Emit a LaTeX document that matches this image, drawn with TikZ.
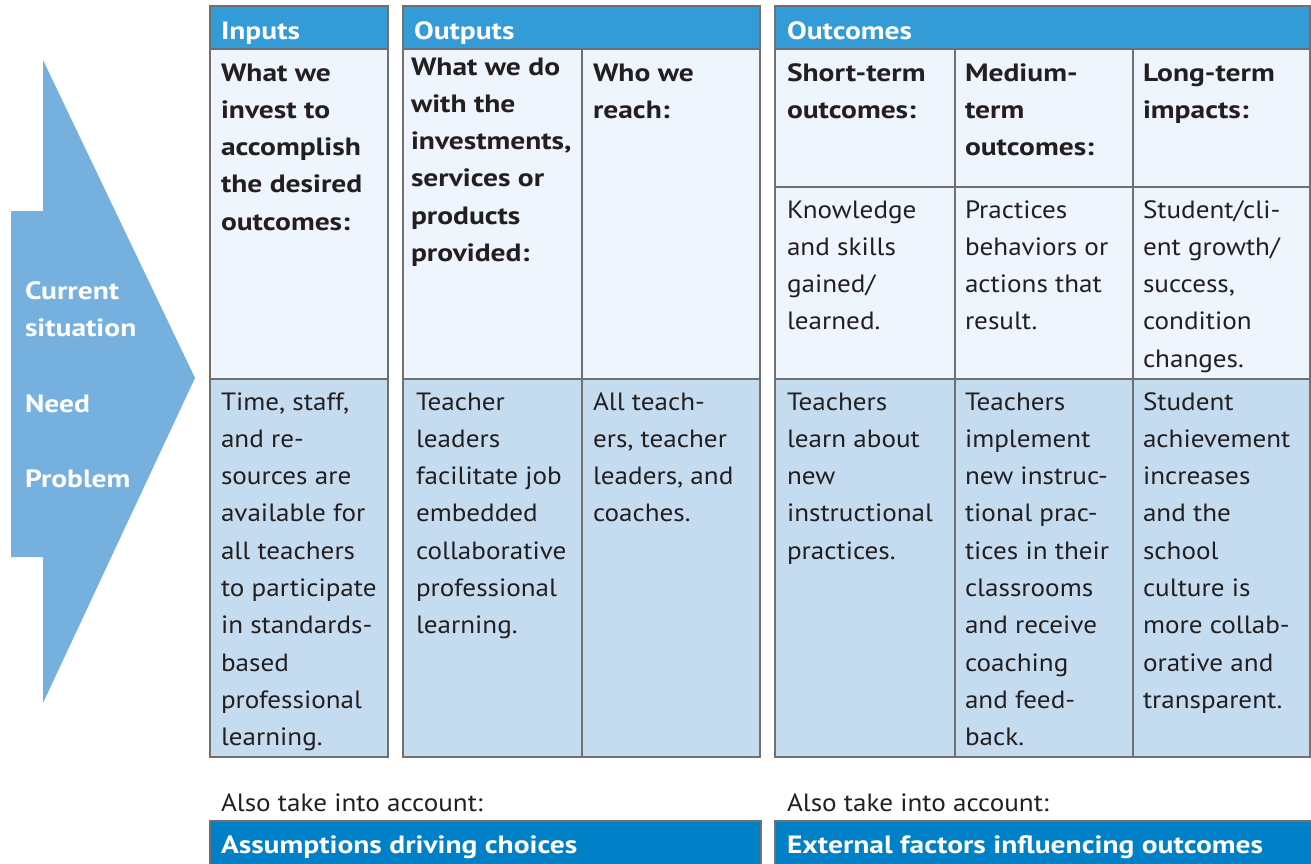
\documentclass[tikz,border=0pt]{standalone}
\usepackage{fontspec}
\setmainfont{PT Sans}[FakeStretch=1.085, BoldFeatures={FakeStretch=1.18}]
\definecolor{hdr}{RGB}{51,155,213}
\definecolor{lite}{RGB}{239,245,252}
\definecolor{dark}{RGB}{197,220,240}
\definecolor{grid}{RGB}{112,112,112}
\definecolor{bar}{RGB}{0,128,198}
\definecolor{arrowblue}{RGB}{117,176,222}
\definecolor{ink}{RGB}{35,31,32}
\newcommand{\topstrut}{\rule{0pt}{26.11pt}}
\begin{document}
\begin{tikzpicture}[x=1pt,y=-1pt,
  txt/.style={anchor=north west, inner sep=0pt, outer sep=0pt, align=left, yshift=26.11pt,
    font=\fontsize{25}{37.3}\selectfont, text=ink},
  btxt/.style={txt, font=\fontsize{25}{37.3}\selectfont\bfseries},
  wtxt/.style={btxt, text=white},
  gridline/.style={draw=grid, line width=2.4pt},
  hdrfill/.style={fill=hdr},
  litefill/.style={fill=lite},
  darkfill/.style={fill=dark},
  barfill/.style={fill=bar}]
\useasboundingbox (0,0) rectangle (1311,863);

% arrow
\fill[arrowblue] (11,211) -- (43,211) -- (43,60) -- (195,378) -- (43,703) -- (43,557) -- (11,557) -- cycle;
\node[wtxt] (cur) at (25,299) {\topstrut Current\\situation};
\node[wtxt] (need) at (25,412) {\topstrut Need};
\node[wtxt] (prob) at (25,487) {\topstrut Problem};

% fills
\fill[hdrfill] (210,6) rectangle (388,49);
\fill[litefill] (210,49) rectangle (388,379);
\fill[darkfill] (210,379) rectangle (388,757);
\fill[hdrfill] (403,6) rectangle (760,49);
\fill[litefill] (403,49) rectangle (760,379);
\fill[darkfill] (403,379) rectangle (760,757);
\fill[hdrfill] (775,6) rectangle (1310,49);
\fill[litefill] (775,49) rectangle (1310,379);
\fill[darkfill] (775,379) rectangle (1310,757);

% grid lines
\draw[gridline] (210,6) rectangle (388,757);
\draw[gridline] (210,49) -- (388,49);
\draw[gridline] (210,379) -- (388,379);
\draw[gridline] (403,6) rectangle (760,757);
\draw[gridline] (403,49) -- (760,49);
\draw[gridline] (403,379) -- (760,379);
\draw[gridline] (582,49) -- (582,757);
\draw[gridline] (775,6) rectangle (1310,757);
\draw[gridline] (775,49) -- (1310,49);
\draw[gridline] (775,187) -- (1310,187);
\draw[gridline] (775,379) -- (1310,379);
\draw[gridline] (955,49) -- (955,757);
\draw[gridline] (1133,49) -- (1133,757);

% headers
\node[wtxt] (hin) at (221,39) {\topstrut Inputs};
\node[wtxt] (hout) at (414,39) {\topstrut Outputs};
\node[wtxt] (hoc) at (787,39) {\topstrut Outcomes};

% question row
\node[btxt] (q1) at (221,81) {\topstrut What we\\invest to\\accomplish\\the desired\\outcomes:};
\node[btxt] (q2) at (411,75) {\topstrut What we do\\with the\\investments,\\services or\\products\\provided:};
\node[btxt] (q3) at (593,81) {\topstrut Who we\\reach:};
\node[btxt] (q4) at (787,81) {\topstrut Short-term\\outcomes:};
\node[btxt] (q5) at (965,81) {\topstrut Medium-\\term\\outcomes:};
\node[btxt] (q6) at (1143,81) {\topstrut Long-term\\impacts:};

% description row (outcomes)
\node[txt] (d4) at (787,218) {\topstrut Knowledge\\and skills\\gained/\\learned.};
\node[txt] (d5) at (965,218) {\topstrut Practices\\behaviors or\\actions that\\result.};
\node[txt] (d6) at (1143,218) {\topstrut Student/cli-\\ent growth/\\success,\\condition\\changes.};

% content row
\node[txt] (c1) at (221,410) {\topstrut Time, staff,\\and re-\\sources are\\available for\\all teachers\\to participate\\in standards-\\based\\professional\\learning.};
\node[txt] (c2) at (416,410) {\topstrut Teacher\\leaders\\facilitate job\\embedded\\collaborative\\professional\\learning.};
\node[txt] (c3) at (593,410) {\topstrut All teach-\\ers, teacher\\leaders, and\\coaches.};
\node[txt] (c4) at (787,410) {\topstrut Teachers\\learn about\\new\\instructional\\practices.};
\node[txt] (c5) at (965,410) {\topstrut Teachers\\implement\\new instruc-\\tional prac-\\tices in their\\classrooms\\and receive\\coaching\\and feed-\\back.};
\node[txt] (c6) at (1143,410) {\topstrut Student\\achievement\\increases\\and the\\school\\culture is\\more collab-\\orative and\\transparent.};

% bottom
\node[txt] (also1) at (221,811) {\topstrut Also take into account:};
\node[txt] (also2) at (787,811) {\topstrut Also take into account:};
\fill[barfill] (210,821) rectangle (761,875);
\draw[gridline] (210,875) -- (210,821) -- (761,821) -- (761,875);
\fill[barfill] (775,821) rectangle (1316,875);
\draw[gridline] (775,875) -- (775,821) -- (1316,821);
\node[wtxt] (assump) at (221,853) {\topstrut Assumptions driving choices};
\node[wtxt] (ext) at (787,853) {\topstrut External factors influencing outcomes};
\end{tikzpicture}
\end{document}
